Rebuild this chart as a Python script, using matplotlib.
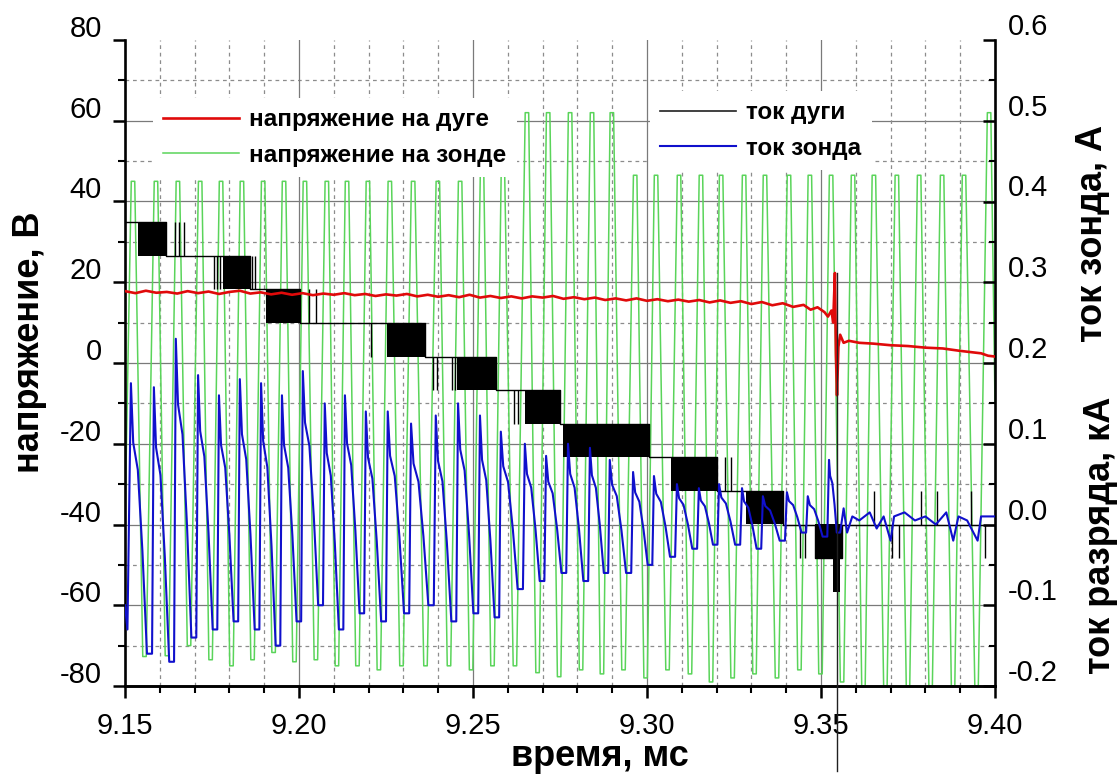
import matplotlib
matplotlib.use("Agg")
import matplotlib.pyplot as plt
from matplotlib.ticker import MultipleLocator, FormatStrFormatter
from matplotlib.transforms import ScaledTranslation

plt.rcParams['font.family'] = ['Liberation Sans', 'DejaVu Sans']
plt.rcParams['axes.unicode_minus'] = False

# --- probe voltage (V): peak / trough levels of each sweep period ---
probe_peak_t = [9.1523, 9.1589, 9.1652, 9.1716, 9.1776, 9.1836, 9.1897, 9.1957,
                9.2017, 9.2080, 9.2138, 9.2198, 9.2261, 9.2328, 9.2399, 9.2463,
                9.2526, 9.2586, 9.2655, 9.2716, 9.2779, 9.2842, 9.2899, 9.2966,
                9.3026, 9.3092, 9.3155, 9.3213, 9.3279, 9.3339, 9.3408, 9.3468,
                9.3529, 9.3592, 9.3652, 9.3718, 9.3782, 9.3848, 9.3911, 9.3983]
probe_peak_v = [45] * 16 + [47, 47] + [62] * 5 + [46.5] * 16 + [62]
probe_trough_v = [-72.7, -72.5, -70, -73.5, -75, -73.5, -71.7, -74, -73.5, -75,
                  -75, -76, -75, -75, -75, -76, -75, -75, -76.7, -77.7,
                  -76, -77, -76, -78, -76, -77, -79, -78, -77, -78,
                  -76, -77, -79, -80, -80, -80, -80, -80, -80]
probe_start_v = -40
probe_end_v = -10

# --- arc voltage (V) ---
arc_u_t = [9.150, 9.153, 9.156, 9.159, 9.162, 9.165, 9.168, 9.171, 9.174, 9.177,
           9.180, 9.183, 9.186, 9.189, 9.192, 9.195, 9.198, 9.201, 9.204, 9.207,
           9.210, 9.213, 9.216, 9.219, 9.222, 9.225, 9.228, 9.231, 9.234, 9.237,
           9.240, 9.243, 9.246, 9.249, 9.252, 9.255, 9.258, 9.261, 9.264, 9.267,
           9.270, 9.273, 9.276, 9.279, 9.282, 9.285, 9.288, 9.291, 9.294, 9.297,
           9.300, 9.303, 9.306, 9.309, 9.312, 9.315, 9.318, 9.321, 9.324, 9.327,
           9.330, 9.333, 9.336, 9.339, 9.342, 9.345, 9.347, 9.349, 9.351, 9.352,
           9.353, 9.3535, 9.3540, 9.3543, 9.3546, 9.3550, 9.3555, 9.3565, 9.3580,
           9.361, 9.365, 9.370, 9.375, 9.380, 9.385, 9.390, 9.393, 9.396, 9.398, 9.400]
arc_u_v = [17.8, 17.3, 17.9, 17.4, 17.6, 17.2, 17.8, 17.3, 17.7, 17.1,
           17.6, 17.9, 17.2, 17.5, 17.0, 17.4, 16.9, 17.3, 16.8, 17.2,
           16.9, 17.3, 16.8, 17.1, 16.6, 17.0, 16.7, 17.1, 16.5, 16.9,
           16.4, 16.8, 16.3, 16.9, 16.2, 16.6, 16.1, 16.5, 16.0, 16.5,
           16.2, 16.6, 15.9, 16.3, 15.8, 16.2, 15.6, 16.0, 15.5, 16.0,
           15.4, 15.8, 15.3, 15.7, 15.2, 15.6, 15.0, 15.5, 14.9, 15.3,
           14.6, 15.1, 14.3, 14.8, 13.9, 14.4, 13.2, 13.8, 12.6, 11.5,
           13.0, 10.0, 22.3, 2.0, -8.0, 4.0, 7.0, 5.0, 5.5,
           5.0, 4.8, 4.4, 4.2, 3.8, 3.6, 3.0, 2.7, 2.4, 1.8, 1.6]

# --- arc current (kA): quantised staircase ---
arc_i_t = [9.15, 9.1618, 9.1859, 9.2003, 9.2362, 9.2566, 9.2750, 9.3006,
           9.3201, 9.3391, 9.3483, 9.3560, 9.40]
arc_i_v = [0.375, 0.333, 0.292, 0.250, 0.208, 0.167, 0.125, 0.083,
           0.042, 0.0, -0.042, 0.0, 0.0]
# stretches where the digitiser toggles between two adjacent levels
toggle_t0 = [9.1536, 9.1782, 9.1905, 9.2253, 9.2455, 9.2649, 9.2760, 9.3069, 9.3284, 9.3483, 9.3535]
toggle_t1 = [9.1618, 9.1859, 9.2003, 9.2362, 9.2566, 9.2750, 9.3006, 9.3201, 9.3391, 9.3560, 9.3556]
toggle_hi = [0.375, 0.333, 0.292, 0.250, 0.208, 0.167, 0.125, 0.083, 0.042, 0.0, -0.042]
toggle_lo = [0.333, 0.292, 0.250, 0.208, 0.167, 0.125, 0.083, 0.042, 0.0, -0.042, -0.083]
spike_t = [9.1643, 9.1654, 9.1670, 9.1756, 9.1765, 9.1772, 9.1866, 9.1874,
           9.2030, 9.2049, 9.2207, 9.2385, 9.2397, 9.2440, 9.2448, 9.2618,
           9.2630, 9.3225, 9.3240, 9.3440, 9.3454, 9.3652, 9.3704, 9.3724,
           9.3787, 9.3833, 9.3931, 9.3971]
spike_lo = [0.333, 0.333, 0.333, 0.292, 0.292, 0.292, 0.292, 0.292,
            0.250, 0.250, 0.208, 0.167, 0.167, 0.167, 0.167, 0.125,
            0.125, 0.042, 0.042, -0.042, -0.042, 0.0, -0.042, -0.042,
            0.0, 0.0, 0.0, -0.042]
spike_hi = [0.375, 0.375, 0.375, 0.333, 0.333, 0.333, 0.333, 0.333,
            0.292, 0.292, 0.250, 0.208, 0.208, 0.208, 0.208, 0.167,
            0.167, 0.083, 0.083, 0.0, 0.0, 0.042, 0.0, 0.0,
            0.042, 0.042, 0.042, 0.0]
# arc break marker (in V)
break_t = 9.3546
break_v = [22.3, -101]

# --- probe current (A): top and bottom of each period, then the flat tail ---
probe_i_top_t = [9.1517, 9.1583, 9.1646, 9.1710, 9.1770, 9.1830, 9.1891, 9.1951,
                 9.2011, 9.2074, 9.2132, 9.2192, 9.2255, 9.2322, 9.2393, 9.2457,
                 9.2520, 9.2580, 9.2649, 9.2710, 9.2773, 9.2836, 9.2893, 9.2960,
                 9.3020, 9.3086, 9.3149, 9.3207, 9.3273, 9.3333, 9.3402, 9.3462, 9.3523]
probe_i_top = [0.175, 0.17, 0.23, 0.185, 0.16, 0.18, 0.175, 0.16, 0.19, 0.15,
               0.16, 0.14, 0.14, 0.125, 0.135, 0.15, 0.135, 0.115, 0.10, 0.085,
               0.10, 0.095, 0.08, 0.065, 0.06, 0.05, 0.045, 0.05, 0.045, 0.035,
               0.04, 0.035, 0.08]
probe_i_bot = [-0.16, -0.17, -0.14, -0.13, -0.12, -0.13, -0.15, -0.12, -0.10, -0.13,
               -0.11, -0.12, -0.11, -0.10, -0.12, -0.11, -0.115, -0.08, -0.07, -0.06,
               -0.07, -0.06, -0.06, -0.05, -0.04, -0.03, -0.025, -0.025, -0.03, -0.02,
               -0.01, -0.015, -0.01]
probe_i_start_t = [9.15, 9.1507]
probe_i_start = [-0.10, -0.13]
probe_i_tail_t = [9.3555, 9.3565, 9.3575, 9.3590, 9.3610, 9.3640, 9.3660, 9.3680,
                  9.3700, 9.3710, 9.3740, 9.3770, 9.3800, 9.3830, 9.3860, 9.3880,
                  9.3895, 9.3920, 9.3950, 9.3960, 9.3990, 9.4000]
probe_i_tail = [-0.01, 0.02, -0.01, 0.01, 0.005, 0.015, -0.005, 0.01,
                -0.02, 0.01, 0.015, 0.005, 0.01, 0.0, 0.015, -0.02,
                0.01, 0.005, -0.02, 0.01, 0.01, 0.01]

# build polylines
cap = 0.0005
gt, gv = [9.15], [probe_start_v]
for k, (tp, vp) in enumerate(zip(probe_peak_t, probe_peak_v)):
    gt += [tp - cap, tp + cap]
    gv += [vp, vp]
    if k < len(probe_trough_v):
        tm = 0.5 * (tp + probe_peak_t[k + 1])
        gt += [tm - cap, tm + cap]
        gv += [probe_trough_v[k], probe_trough_v[k]]
gt.append(9.40)
gv.append(probe_end_v)

# sharp rise, stepped decay, short flat bottom
decay = [(0.1, 0.22), (0.3, 0.32), (0.5, 0.62), (0.7, 1.0), (0.92, 1.0)]
bt, bv = list(probe_i_start_t), list(probe_i_start)
ends = probe_i_top_t[1:] + [probe_i_tail_t[0]]
for t0, t1, top, bot in zip(probe_i_top_t, ends, probe_i_top, probe_i_bot):
    bt.append(t0)
    bv.append(top)
    for f, d in decay:
        bt.append(t0 + f * (t1 - t0))
        bv.append(top + d * (bot - top))
bt += probe_i_tail_t
bv += probe_i_tail

fig = plt.figure(figsize=(11.19, 7.76), dpi=100)
ax = fig.add_axes([125 / 1119, 1 - 686 / 776, 870 / 1119, 646 / 776])
ax2 = ax.twinx()

ax.set_xlim(9.15, 9.40)
ax.set_ylim(-80, 80)
ax2.set_ylim(-0.2, 0.6)
ax.xaxis.set_major_locator(MultipleLocator(0.05))
ax.xaxis.set_minor_locator(MultipleLocator(0.01))
ax.xaxis.set_major_formatter(FormatStrFormatter('%.2f'))
ax.yaxis.set_major_locator(MultipleLocator(20))
ax.yaxis.set_minor_locator(MultipleLocator(10))
ax2.yaxis.set_major_locator(MultipleLocator(0.1))
ax2.yaxis.set_minor_locator(MultipleLocator(0.05))
ax2.yaxis.set_major_formatter(FormatStrFormatter('%.1f'))

# grid, skipping the frame edges
for y in ax.get_yticks():
    if -80 < y < 80:
        ax.axhline(y, color='#7a7a7a', lw=0.9, zorder=0.5)
for y in ax.get_yticks(minor=True):
    if -80 < y < 80:
        ax.axhline(y, color='#8c8c8c', lw=0.9, ls=(0, (3, 3)), zorder=0.5)
for x in ax.get_xticks():
    if 9.151 < x < 9.399:
        ax.axvline(x, color='#7a7a7a', lw=0.9, zorder=0.5)
for x in ax.get_xticks(minor=True):
    if 9.151 < x < 9.399:
        ax.axvline(x, color='#8c8c8c', lw=0.9, ls=(0, (3, 3)), zorder=0.5)

green, = ax.plot(gt, gv, color='#5ad45a', lw=1.1, zorder=2)

ax2.step(arc_i_t, arc_i_v, where='post', color='black', lw=1.0, zorder=2)
for t0, t1, hi, lo in zip(toggle_t0, toggle_t1, toggle_hi, toggle_lo):
    ax2.fill_between([t0, t1], [lo, lo], [hi, hi], color='black', lw=0, zorder=2)
ax2.vlines(spike_t, spike_lo, spike_hi, color='black', lw=1.0, zorder=2)
black, = ax2.plot([], [], color='#202020', lw=1.2)

red, = ax2.plot(arc_u_t, arc_u_v, color='#e00a0a', lw=1.9, zorder=3,
                transform=ax.transData)
blue, = ax2.plot(bt, bv, color='#1010cc', lw=1.5, zorder=4)
ax2.plot([break_t, break_t], break_v, color='#202020', lw=1.0, zorder=5,
         transform=ax.transData, clip_on=False)
ax2.set_ylim(-0.2, 0.6)

# frame and ticks
for s in ['top', 'right']:
    ax.spines[s].set_visible(False)
for s in ['top', 'left', 'bottom']:
    ax2.spines[s].set_visible(False)
ax.spines['left'].set_linewidth(1.9)
ax.spines['bottom'].set_linewidth(2.1)
ax2.spines['right'].set_linewidth(1.9)

ax.tick_params(axis='both', which='major', direction='out', length=8.6, width=1.8,
               labelsize=21, pad=8)
ax.tick_params(axis='both', which='minor', direction='out', length=5, width=1.5)
ax.tick_params(axis='x', which='major', pad=10)
ax.tick_params(top=False, right=False, which='both')
ax2.tick_params(axis='y', which='major', direction='in', length=8.6, width=1.8,
                labelsize=21, pad=9.5)
ax2.tick_params(axis='y', which='minor', direction='in', length=4.5, width=1.5)

# tick numbers sit a little above their ticks
for lbl in ax.get_yticklabels():
    lbl.set_transform(lbl.get_transform() + ScaledTranslation(0, 0.14, fig.dpi_scale_trans))
for lbl in ax2.get_yticklabels():
    lbl.set_transform(lbl.get_transform() + ScaledTranslation(0, 0.16, fig.dpi_scale_trans))

leg_kw = dict(loc='upper left', bbox_transform=fig.transFigure, frameon=True,
              fancybox=False, edgecolor='none', facecolor='white', framealpha=1,
              prop={'weight': 'bold', 'size': 17.5}, handlelength=3.1,
              handletextpad=0.45, labelspacing=0.52, borderpad=0.42, borderaxespad=0)
leg1 = ax2.legend([red, green], ['напряжение на дуге', 'напряжение на зонде'],
                  bbox_to_anchor=(153 / 1119, 1 - 98 / 776), **leg_kw)
ax2.add_artist(leg1)
leg2 = ax2.legend([black, blue], ['ток дуги', 'ток зонда'],
                  bbox_to_anchor=(650 / 1119, 1 - 91 / 776), **leg_kw)
for leg in (leg1, leg2):
    leg.set_zorder(10)

lab = dict(fontsize=26, fontweight='bold', ha='center', va='center')
fig.text(30 / 1119, 1 - 342 / 776, 'напряжение, В', rotation=90, **lab)
fig.text(1092 / 1119, 1 - 233 / 776, 'ток зонда, А', rotation=90, **lab)
fig.text(1100 / 1119, 1 - 535 / 776, 'ток разряда, кА', rotation=90, **lab)
fig.text(600 / 1119, 1 - 757 / 776, 'время, мс', **lab)

fig.savefig("out.png", dpi=100, facecolor='white')
